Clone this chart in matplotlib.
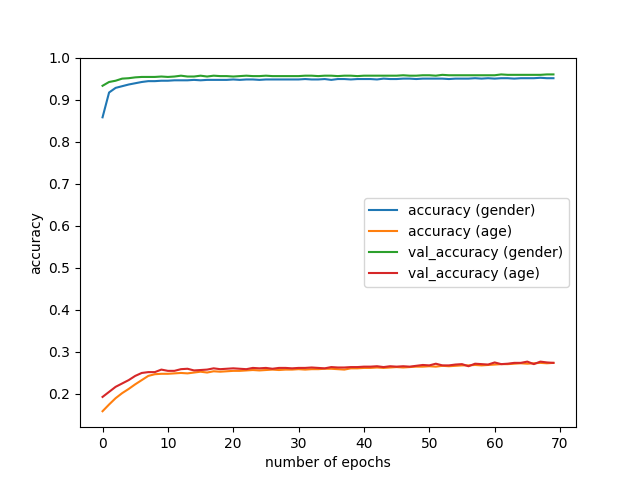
import numpy as np
import matplotlib
matplotlib.use("Agg")
import matplotlib.pyplot as plt

# ----- Training history ----- #
accuracy_gender = [
    0.858, 0.917, 0.928, 0.932, 0.936, 0.939, 0.942, 0.944, 0.944, 0.945,
    0.945, 0.946, 0.946, 0.946, 0.947, 0.946, 0.947, 0.947, 0.947, 0.947,
    0.948, 0.947, 0.948, 0.948, 0.947, 0.948, 0.948, 0.948, 0.948, 0.948,
    0.948, 0.949, 0.948, 0.948, 0.949, 0.947, 0.949, 0.949, 0.948, 0.949,
    0.949, 0.949, 0.948, 0.950, 0.949, 0.949, 0.950, 0.950, 0.949, 0.950,
    0.950, 0.950, 0.950, 0.949, 0.950, 0.950, 0.950, 0.951, 0.950, 0.951,
    0.950, 0.951, 0.951, 0.950, 0.951, 0.951, 0.951, 0.952, 0.951, 0.951,
]
accuracy_age = [
    0.159, 0.175, 0.190, 0.202, 0.212, 0.223, 0.233, 0.243, 0.247, 0.248,
    0.248, 0.249, 0.250, 0.249, 0.251, 0.253, 0.251, 0.254, 0.253, 0.254,
    0.255, 0.255, 0.256, 0.257, 0.256, 0.257, 0.258, 0.257, 0.258, 0.258,
    0.259, 0.258, 0.259, 0.259, 0.260, 0.260, 0.259, 0.258, 0.261, 0.261,
    0.262, 0.262, 0.263, 0.262, 0.263, 0.264, 0.263, 0.264, 0.265, 0.265,
    0.266, 0.265, 0.267, 0.266, 0.267, 0.268, 0.268, 0.269, 0.268, 0.269,
    0.270, 0.271, 0.271, 0.272, 0.273, 0.272, 0.273, 0.274, 0.273, 0.274,
]
val_accuracy_gender = [
    0.933, 0.942, 0.945, 0.950, 0.951, 0.953, 0.954, 0.954, 0.954, 0.955,
    0.954, 0.955, 0.957, 0.955, 0.955, 0.957, 0.955, 0.957, 0.956, 0.956,
    0.955, 0.956, 0.957, 0.956, 0.956, 0.957, 0.956, 0.956, 0.956, 0.956,
    0.956, 0.957, 0.957, 0.956, 0.957, 0.957, 0.956, 0.957, 0.957, 0.956,
    0.957, 0.957, 0.957, 0.957, 0.957, 0.957, 0.958, 0.957, 0.957, 0.958,
    0.958, 0.957, 0.959, 0.958, 0.958, 0.958, 0.958, 0.958, 0.958, 0.958,
    0.958, 0.960, 0.959, 0.959, 0.959, 0.959, 0.959, 0.959, 0.960, 0.960,
]
val_accuracy_age = [
    0.193, 0.205, 0.217, 0.225, 0.233, 0.243, 0.250, 0.252, 0.252, 0.258,
    0.255, 0.255, 0.259, 0.260, 0.256, 0.257, 0.258, 0.261, 0.259, 0.260,
    0.261, 0.260, 0.259, 0.262, 0.261, 0.262, 0.260, 0.262, 0.262, 0.261,
    0.262, 0.262, 0.263, 0.262, 0.261, 0.264, 0.263, 0.263, 0.264, 0.264,
    0.265, 0.265, 0.266, 0.264, 0.266, 0.265, 0.266, 0.265, 0.267, 0.269,
    0.268, 0.272, 0.268, 0.268, 0.270, 0.271, 0.266, 0.272, 0.271, 0.270,
    0.275, 0.271, 0.272, 0.274, 0.274, 0.277, 0.271, 0.277, 0.275, 0.274,
]
epochs = np.arange(len(accuracy_gender))

# ----- Plot ----- #
plt.figure(figsize=(6.4, 4.8), dpi=100)
plt.plot(epochs, accuracy_gender, label="accuracy (gender)")
plt.plot(epochs, accuracy_age, label="accuracy (age)")
plt.plot(epochs, val_accuracy_gender, label="val_accuracy (gender)")
plt.plot(epochs, val_accuracy_age, label="val_accuracy (age)")
plt.ylim(0.121, 1.0)
plt.xlabel("number of epochs")
plt.ylabel("accuracy")
plt.legend(loc="center right")

plt.savefig("out.png", dpi=100)
